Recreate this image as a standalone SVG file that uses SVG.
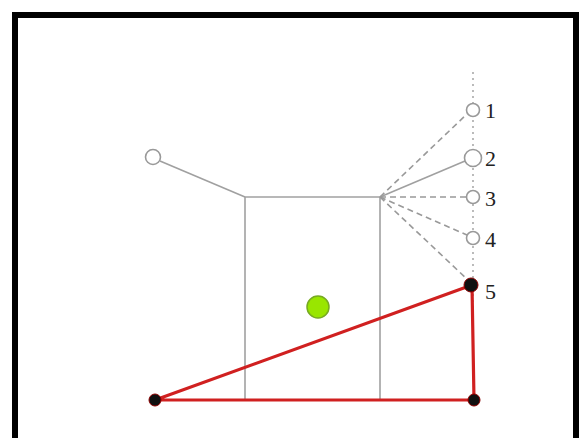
<svg xmlns="http://www.w3.org/2000/svg" width="579" height="438" viewBox="0 0 579 438">
<style>
.g{stroke:#a0a0a0;stroke-width:1.6;fill:none}
.d{stroke:#999;stroke-width:1.6;fill:none;stroke-dasharray:6 4}
.c{fill:#fff;stroke:#999;stroke-width:1.6}
.k{fill:#111;stroke:#8b0000;stroke-width:1}
.t{font-family:"Liberation Serif",serif;font-size:22px;fill:#222}
</style>
<rect x="0" y="0" width="579" height="438" fill="#fff"/>
<path d="M15 438 V15 H576 V438" fill="none" stroke="#000" stroke-width="6"/>
<g id="connectors">
<line x1="473" y1="72" x2="473" y2="320" stroke="#aaa" stroke-width="1.6" stroke-dasharray="2 4"/>
<line class="g" x1="160" y1="161" x2="245" y2="197"/>
<line class="g" x1="245" y1="197" x2="380" y2="197"/>
<line class="g" x1="245" y1="197" x2="245" y2="400"/>
<line class="g" x1="380" y1="197" x2="380" y2="400"/>
<line class="d" x1="380" y1="197" x2="467" y2="114"/>
<line class="g" x1="380" y1="197" x2="465" y2="161"/>
<line class="d" x1="380" y1="197" x2="467" y2="197"/>
<line class="d" x1="380" y1="197" x2="467" y2="235"/>
<line class="d" x1="380" y1="197" x2="468" y2="280"/>
<polygon points="155,400 472,285 474,400" fill="none" stroke="#d02020" stroke-width="3.2" stroke-linejoin="round"/>
</g>
<g id="n-left"><circle class="c" cx="153" cy="157" r="7.5"/></g>
<g id="n1"><circle class="c" cx="473" cy="110" r="6.5"/><text class="t" x="485" y="118">1</text></g>
<g id="n2"><circle class="c" cx="473" cy="158" r="8.5"/><text class="t" x="485" y="166">2</text></g>
<g id="n3"><circle class="c" cx="473" cy="197" r="6.5"/><text class="t" x="485" y="206">3</text></g>
<g id="n4"><circle class="c" cx="473" cy="238" r="6.5"/><text class="t" x="485" y="247">4</text></g>
<g id="n5"><circle class="k" cx="471" cy="285" r="7"/><text class="t" x="485" y="299">5</text></g>
<g id="green"><circle cx="318" cy="307" r="11" fill="#99e600" stroke="#77aa22" stroke-width="1.5"/></g>
<g id="p-left"><circle class="k" cx="155" cy="400" r="6"/></g>
<g id="p-right"><circle class="k" cx="474" cy="400" r="6"/></g>
</svg>
